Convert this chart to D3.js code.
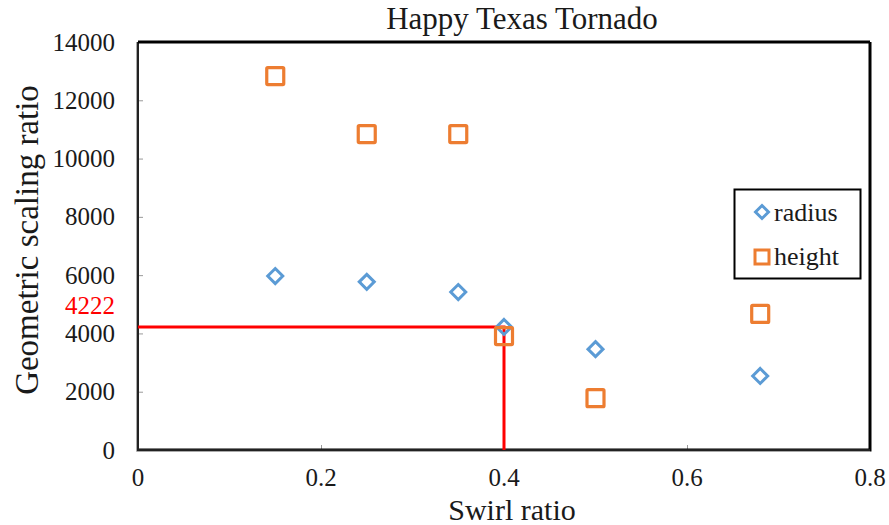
<!DOCTYPE html>
<html><head><meta charset="utf-8">
<script src="https://cdn.jsdelivr.net/npm/d3@7/dist/d3.min.js"></script>
<style>body{margin:0;background:#fff}svg{display:block}text{font-family:"Liberation Serif","Times New Roman",serif;fill:#1a1a1a}</style>
</head><body><svg id="c" width="889" height="525"></svg>
<script>
const swirl = [0.15, 0.25, 0.35, 0.4, 0.5, 0.68];
const radius = [5970, 5770, 5420, 4222, 3460, 2540];
const height = [12830, 10840, 10840, 3910, 1780, 4670];
const xTicks = [0, 0.2, 0.4, 0.6, 0.8];
const yTicks = [0, 2000, 4000, 6000, 8000, 10000, 12000, 14000];
const markX = 0.4, markY = 4222;

const svg = d3.select("#c");
const L = 138, R = 870, T = 42, B = 450;
const x = d3.scaleLinear().domain([0, 0.8]).range([L, R]);
const y = d3.scaleLinear().domain([0, 14000]).range([B, T]);

function txt(px, py, anchor, size, str) {
  return svg.append("text").attr("x", px).attr("y", py)
    .attr("text-anchor", anchor).attr("font-size", size).text(str);
}

// ticks inside
const xa = d3.axisBottom(x).tickValues(xTicks.slice(1, -1)).tickSize(-5).tickFormat("");
const ya = d3.axisLeft(y).tickValues(yTicks.slice(1, -1)).tickSize(-5).tickFormat("");
svg.append("g").attr("transform", `translate(0,${B})`).call(xa)
  .call(g => { g.select(".domain").remove(); g.selectAll("line").attr("stroke", "#999"); });
svg.append("g").attr("transform", `translate(${L},0)`).call(ya)
  .call(g => { g.select(".domain").remove(); g.selectAll("line").attr("stroke", "#999"); });

// frame
svg.append("path").attr("d", `M${L},${B}H${R}V${T}`).attr("fill", "none").attr("stroke", "#000").attr("stroke-width", 3);
svg.append("path").attr("d", `M${L},${T}V${B}H${R}`).attr("fill", "none").attr("stroke", "#222").attr("stroke-width", 2);
svg.append("path").attr("d", `M${L-1.5},${T}V${B+1.5}H${R}`).attr("fill", "none").attr("stroke", "#aaa").attr("stroke-width", 1);
svg.append("path").attr("d", `M${L},${T}H${R}`).attr("fill", "none").attr("stroke", "#000").attr("stroke-width", 3);

// tick labels
xTicks.forEach(d => txt(x(d), 486, "middle", 25, d === 0 ? "0" : d3.format(".1f")(d)));
yTicks.forEach(d => txt(115, y(d) + 8.5, "end", 25, d));
txt(115, 314, "end", 25, markY).style("fill", "#ff0000");

// red guide lines
svg.append("path").attr("d", `M${x(0)},${y(markY)}H${x(markX)}V${y(0)}`)
  .attr("fill", "none").attr("stroke", "#ff0000").attr("stroke-width", 3);

// markers
const blue = "#5b9bd5", orange = "#ed7d31";
svg.append("g").selectAll("path").data(swirl.map((s, i) => [s, radius[i]])).join("path")
  .attr("transform", d => `translate(${x(d[0])},${y(d[1])})`)
  .attr("d", "M0,-7.5L7.5,0L0,7.5L-7.5,0Z").attr("fill", "none").attr("stroke", blue).attr("stroke-width", 3);
svg.append("g").selectAll("rect").data(swirl.map((s, i) => [s, height[i]])).join("rect")
  .attr("x", d => x(d[0]) - 8.5).attr("y", d => y(d[1]) - 8.5).attr("width", 17).attr("height", 17).attr("rx", 1)
  .attr("fill", "none").attr("stroke", orange).attr("stroke-width", 3.2);

// titles
txt(522, 29, "middle", 31, "Happy Texas Tornado");
txt(512, 520, "middle", 30, "Swirl ratio");
svg.append("text").attr("transform", "translate(38,240) rotate(-90)")
  .attr("text-anchor", "middle").attr("font-size", 33).text("Geometric scaling ratio");

// legend
svg.append("rect").attr("x", 734.5).attr("y", 189.5).attr("width", 126).attr("height", 89).attr("fill", "#fff").attr("stroke", "#000").attr("stroke-width", 2);
svg.append("path").attr("transform", "translate(762,212)").attr("d", "M0,-6.5L6.5,0L0,6.5L-6.5,0Z").attr("fill", "none").attr("stroke", blue).attr("stroke-width", 3);
svg.append("rect").attr("x", 755).attr("y", 250).attr("width", 14).attr("height", 14).attr("fill", "none").attr("stroke", orange).attr("stroke-width", 3);
txt(774, 221, "start", 26, "radius");
txt(774, 265, "start", 26, "height");
</script></body></html>
